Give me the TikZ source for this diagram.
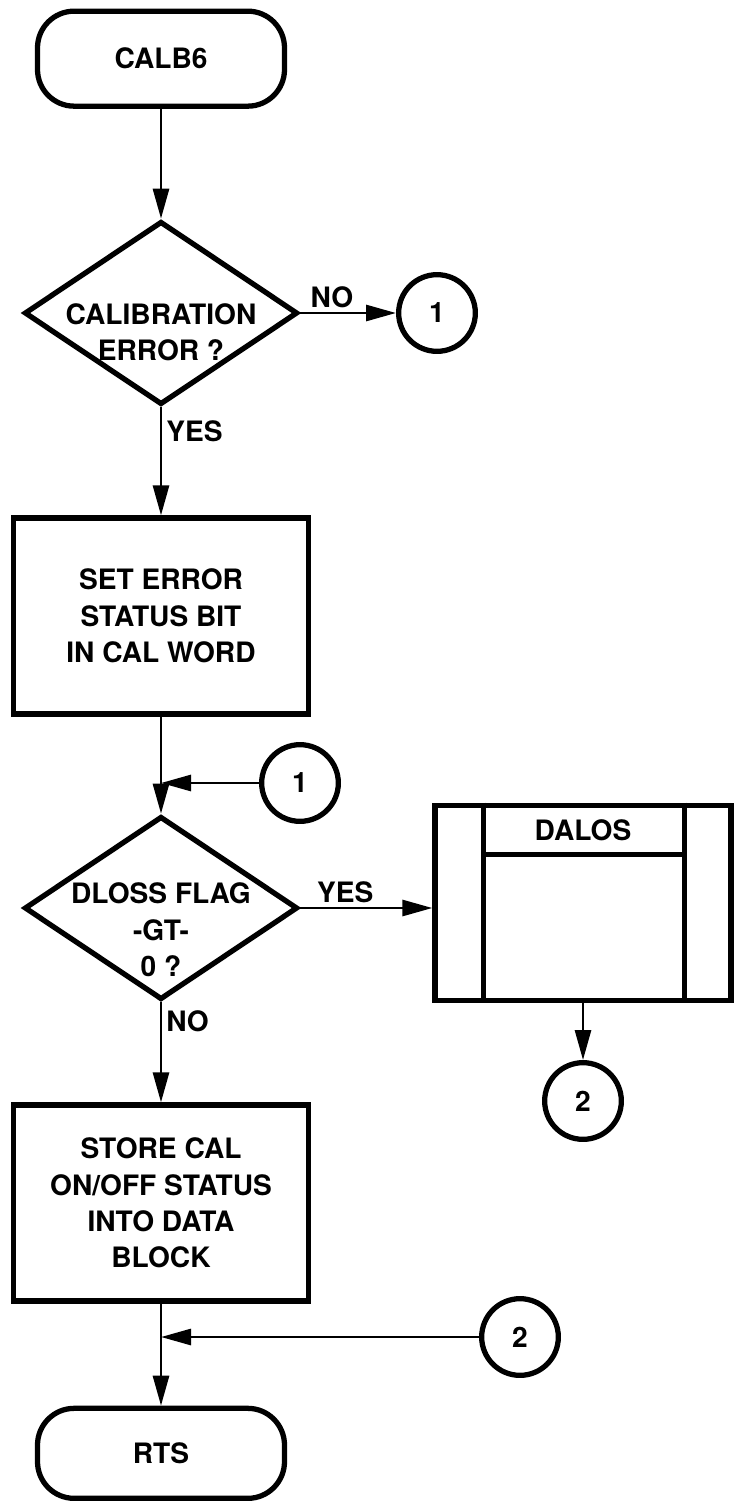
\documentclass[tikz,border=0pt]{standalone}
\usepackage{fontspec}
\setmainfont{TeX Gyre Heros}
\usetikzlibrary{arrows.meta,shapes.geometric}

\begin{document}
\begin{tikzpicture}[
    font=\fontsize{24}{31}\selectfont\bfseries,
    term/.style={draw,line width=4.5pt,rounded corners=1.1cm,
      minimum width=7.41cm,minimum height=2.85cm},
    proc/.style={draw,line width=4.5pt,minimum width=8.85cm,
      minimum height=5.88cm,align=center},
    dec/.style={draw,diamond,line width=4.5pt,minimum width=8.2cm,
      minimum height=5.5cm,inner sep=0pt},
    con/.style={draw,circle,line width=4.5pt,minimum size=2.3cm,inner sep=0pt},
    subr/.style={draw,line width=4.5pt,minimum width=8.88cm,minimum height=5.85cm},
    inr/.style={line width=4pt},
    ar/.style={-{Triangle[length=0.9cm,width=0.48cm]},line width=2.4pt},
  ]
    \path[use as bounding box,fill=white] (0,0) rectangle (22.17,-45.09);
    \node[term](calb) at (4.83,-1.76) {CALB6};
    \node[dec,label={[align=center,yshift=-0.58cm]center:CALIBRATION\\ERROR ?}]
      (dec1) at (4.83,-9.39) {};
    \node[con](c1a) at (13.11,-9.39) {1};
    \node[proc](seterr) at (4.83,-18.48)
      {SET ERROR\\STATUS BIT\\IN CAL WORD};
    \node[con](c1b) at (9.0,-23.49) {1};
    \node[dec,label={[align=center,yshift=-0.66cm]center:DLOSS FLAG\\-GT-\\0 ?}]
      (dec2) at (4.83,-27.24) {};
    \node[subr,label={[anchor=center,yshift=-0.84cm]north:DALOS}]
      (dalos) at (17.49,-27.08) {};
    \draw[inr]([xshift=1.53cm]dalos.north west)--([xshift=1.53cm]dalos.south west);
    \draw[inr]([xshift=-1.47cm]dalos.north east)--([xshift=-1.47cm]dalos.south east);
    \draw[inr]([xshift=1.53cm,yshift=-1.56cm]dalos.north west)
      --([xshift=-1.47cm,yshift=-1.56cm]dalos.north east);
    \node[con](c2a) at (17.49,-33.03) {2};
    \node[proc](storecal) at (4.83,-36.09)
      {STORE CAL\\ON/OFF STATUS\\INTO DATA\\BLOCK};
    \node[con](c2b) at (15.6,-40.11) {2};
    \node[term,minimum height=2.7cm](rts) at (4.83,-43.6) {RTS};
    \draw[ar](calb)--(dec1);
    \draw[ar](dec1)--node[above,pos=0.33]{NO}(c1a);
    \draw[ar](dec1)--node[right,pos=0.22]{YES}(seterr);
    \draw[ar](seterr)--(dec2);
    \draw[ar](c1b)--(c1b-|seterr);
    \draw[ar](dec2.east)--node[above,pos=0.34]{YES}(dec2.east-|dalos.west);
    \draw[ar](dec2)--node[right,pos=0.19]{NO}(storecal);
    \draw[ar](dalos)--(c2a);
    \draw[ar](storecal)--(rts);
    \draw[ar](c2b)--(c2b-|storecal);
  \end{tikzpicture}
\end{document}
